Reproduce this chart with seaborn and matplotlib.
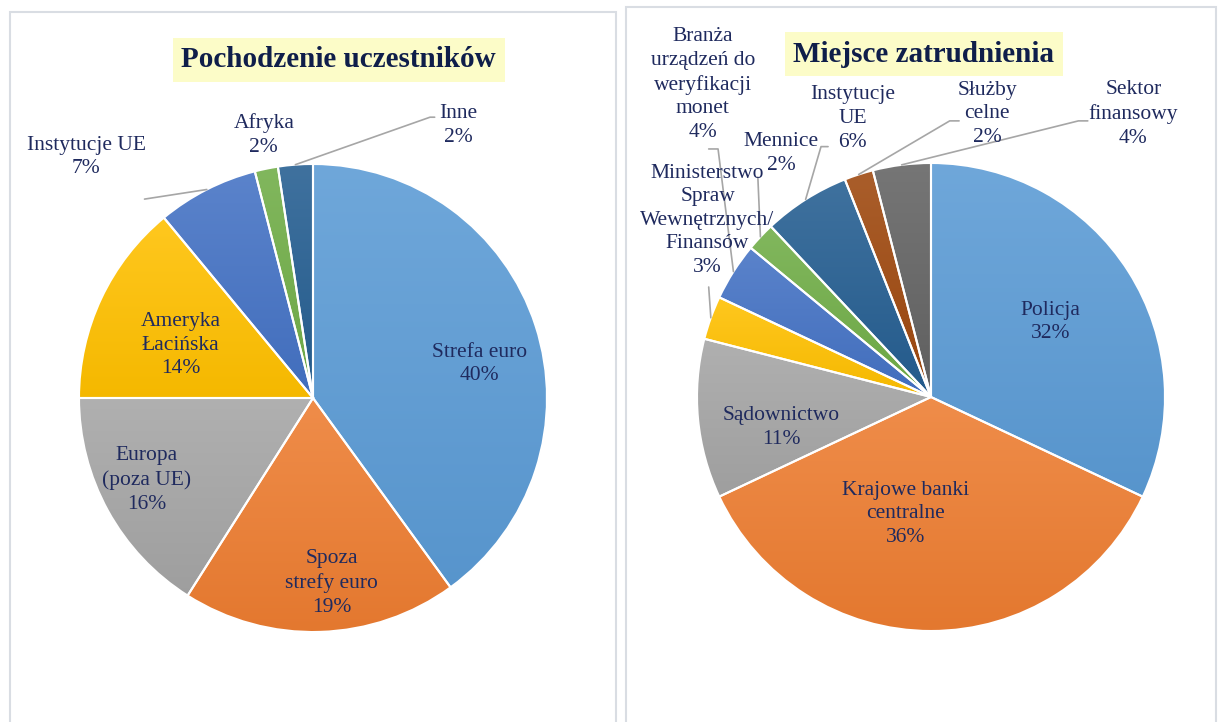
import matplotlib
matplotlib.use("Agg")
import matplotlib.pyplot as plt
import matplotlib.colors as mcolors
from matplotlib.patches import Rectangle
import numpy as np
import seaborn as sns

# --- data -------------------------------------------------------------
origin_labels = ["Strefa euro", "Spoza\nstrefy euro", "Europa\n(poza UE)",
                 "Ameryka\nŁacińska", "Instytucje UE", "Afryka", "Inne"]
origin_values = [40, 19, 16, 14, 7, 1.6, 2.4]
origin_pct = ["40%", "19%", "16%", "14%", "7%", "2%", "2%"]

job_labels = ["Policja", "Krajowe banki\ncentralne", "Sądownictwo",
              "Ministerstwo\nSpraw\nWewnętrznych/\nFinansów",
              "Branża\nurządzeń do\nweryfikacji\nmonet", "Mennice",
              "Instytucje\nUE", "Służby\ncelne", "Sektor\nfinansowy"]
job_values = [32, 36, 11, 3, 4, 2, 6, 2, 4]
job_pct = ["32%", "36%", "11%", "3%", "4%", "2%", "6%", "2%", "4%"]

office = ["#5B9BD5", "#ED7D31", "#A5A5A5", "#FFC000", "#4472C4",
          "#70AD47", "#255E91", "#9E480E", "#636363"]

# --- layout (in units of pie radius, centre at 0,0) -------------------
origin_text_pos = [(0.71, 0.145), (0.08, -0.79), (-0.71, -0.35), (-0.565, 0.225),
                   (-0.97, 1.03), (-0.21, 1.125), (0.62, 1.165)]
# leader lines: slice index -> points from label side to the knee
origin_leaders = {4: [(-0.72, 0.85)], 6: [(0.52, 1.20), (0.50, 1.20)]}

job_text_pos = [(0.51, 0.32), (-0.11, -0.50), (-0.64, -0.13), (-0.955, 0.755),
                (-0.975, 1.335), (-0.64, 1.04), (-0.335, 1.19), (0.24, 1.21),
                (0.865, 1.21)]
job_leaders = {3: [(-0.95, 0.47)], 4: [(-0.95, 1.06), (-0.91, 1.06)],
               5: [(-0.74, 0.94)], 6: [(-0.44, 1.07), (-0.47, 1.07)],
               7: [(0.12, 1.18), (0.08, 1.18)], 8: [(0.67, 1.18), (0.63, 1.18)]}

sns.set_theme(style="white")
plt.rcParams["font.family"] = ["Liberation Serif", "DejaVu Serif"]

TEXT = "#1F2A5E"
TITLE = "#0F1E4A"
W, H = 1222, 722
HALF = 1.75
fig = plt.figure(figsize=(W / 100, H / 100), dpi=100)
fig.patch.set_facecolor("white")

# panel frames
for x0, y0, x1 in [(10, 12, 616), (626, 7, 1216)]:
    fig.patches.append(Rectangle((x0 / W, -0.1), (x1 - x0) / W, 1.1 - y0 / H,
                                 transform=fig.transFigure, fill=False,
                                 edgecolor="#d9dde3", linewidth=1.5))


def pie_axes(cx, cy, r):
    s = HALF * r
    ax = fig.add_axes([(cx - s) / W, (H - cy - s) / H, 2 * s / W, 2 * s / H])
    ax.axis("off")
    return ax


def shade(ax, wedge, color):
    # Excel-like vertical gradient: lighter on top, a bit darker below
    base = np.array(mcolors.to_rgb(color))
    top = base + (1 - base) * 0.12
    bottom = base * 0.96
    t = np.linspace(0, 1, 64)[:, None]
    grad = bottom + (top - bottom) * t
    img = np.concatenate([grad, np.ones((64, 1))], axis=1)[:, None, :]
    ext = wedge.get_path().get_extents()
    im = ax.imshow(img, extent=(ext.x0, ext.x1, ext.y0, ext.y1), origin="lower",
                   aspect="auto", interpolation="bilinear", zorder=1.5)
    im.set_clip_path(wedge)
    wedge.set_facecolor("none")
    wedge.set_zorder(2)


def draw(ax, values, labels, pct, colors, text_pos, leaders, title, title_pos):
    wedges, _ = ax.pie(values, colors=colors, startangle=90, counterclock=False,
                       radius=1, wedgeprops=dict(edgecolor="white", linewidth=1.5))
    for w, c in zip(wedges, colors):
        shade(ax, w, c)
    ax.set_xlim(-HALF, HALF)
    ax.set_ylim(-HALF, HALF)
    ax.set_aspect("equal")
    for lab, p, (x, y) in zip(labels, pct, text_pos):
        ax.text(x, y, f"{lab}\n{p}", ha="center", va="center", fontsize=15.5,
                color=TEXT, linespacing=1.33, clip_on=False, zorder=3)
    for i, pts in leaders.items():
        w = wedges[i]
        mid = np.deg2rad((w.theta1 + w.theta2) / 2)
        xs = [p[0] for p in pts] + [np.cos(mid)]
        ys = [p[1] for p in pts] + [np.sin(mid)]
        ax.plot(xs, ys, color="#a6a6a6", linewidth=1.2, clip_on=False)
    ax.text(*title_pos, title, ha="center", va="center", fontsize=21,
            fontweight="bold", color=TITLE, clip_on=False,
            bbox=dict(boxstyle="square,pad=0.3", facecolor="#FCFCC8",
                      edgecolor="none"))


ax1 = pie_axes(313, 398, 234)
draw(ax1, origin_values, origin_labels, origin_pct, office[:7],
     origin_text_pos, origin_leaders, "Pochodzenie uczestników", (0.11, 1.445))

ax2 = pie_axes(931, 397, 234)
draw(ax2, job_values, job_labels, job_pct, office,
     job_text_pos, job_leaders, "Miejsce zatrudnienia", (-0.03, 1.465))

fig.savefig("out.png", dpi=100)
